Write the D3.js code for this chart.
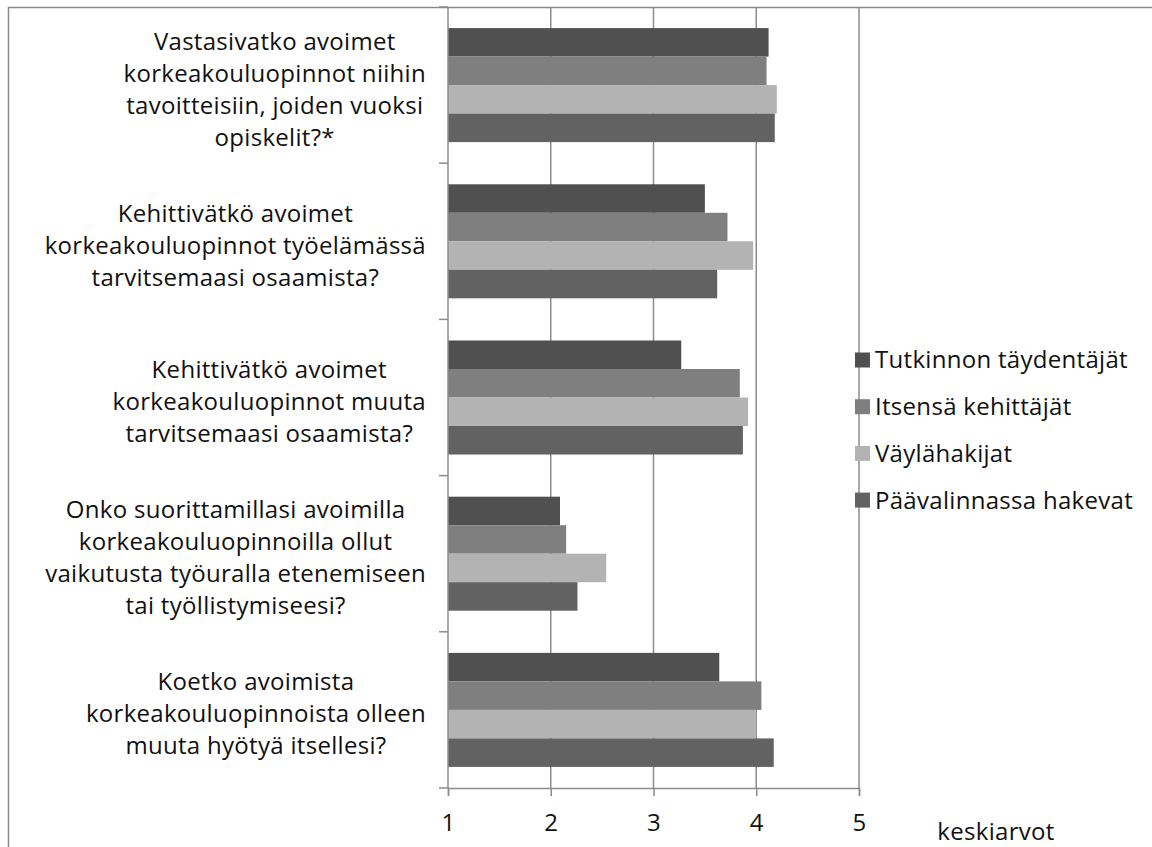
<!DOCTYPE html>
<html>
<head>
<meta charset="utf-8">
<script src="https://cdn.jsdelivr.net/npm/d3@7"></script>
<style>
  body { margin: 0; background: #fff; }
  text { font-family: "Open Sans", sans-serif; fill: #111; letter-spacing: 0.3px; }
</style>
</head>
<body>
<div id="figure"></div>
<script>
// questions (top to bottom)
var questions = [
  ["Vastasivatko avoimet", "korkeakouluopinnot niihin", "tavoitteisiin, joiden vuoksi", "opiskelit?*"],
  ["Kehittivätkö avoimet", "korkeakouluopinnot työelämässä", "tarvitsemaasi osaamista?"],
  ["Kehittivätkö avoimet", "korkeakouluopinnot muuta", "tarvitsemaasi osaamista?"],
  ["Onko suorittamillasi avoimilla", "korkeakouluopinnoilla ollut", "vaikutusta työuralla etenemiseen", "tai työllistymiseesi?"],
  ["Koetko avoimista", "korkeakouluopinnoista olleen", "muuta hyötyä itsellesi?"]
];
var seriesNames = ["Tutkinnon täydentäjät", "Itsensä kehittäjät", "Väylähakijat", "Päävalinnassa hakevat"];
var seriesColors = ["#505050", "#7f7f7f", "#b3b3b3", "#626262"];
// values per question, in series order
var tutkinnon = [4.12, 3.50, 3.27, 2.09, 3.64];
var itsensa   = [4.10, 3.72, 3.84, 2.15, 4.05];
var vayla     = [4.20, 3.97, 3.92, 2.54, 4.00];
var paavalinta = [4.18, 3.62, 3.87, 2.26, 4.17];
var xTicks = [1, 2, 3, 4, 5];
var xTitle = "keskiarvot";

var seriesValues = [tutkinnon, itsensa, vayla, paavalinta];

var W = 1152, H = 847;
var plot = {left: 448, right: 859, top: 7, bottom: 788};
var fs = 24;

var svg = d3.select("#figure").append("svg")
  .attr("width", W).attr("height", H);

// outer frame (cropped at right/bottom)
svg.append("rect")
  .attr("x", 8.5).attr("y", 7.5)
  .attr("width", W).attr("height", H)
  .attr("fill", "none").attr("stroke", "#8a8a8a").attr("stroke-width", 1.5);

var x = d3.scaleLinear().domain([1, 5]).range([plot.left, plot.right]);
var y0 = d3.scaleBand().domain(d3.range(questions.length)).range([plot.top, plot.bottom]);
var gap = y0.bandwidth() * 0.135;
var y1 = d3.scaleBand().domain(d3.range(seriesNames.length)).range([gap, y0.bandwidth() - gap]);

// gridlines
svg.append("g").selectAll("line").data(xTicks.slice(1)).join("line")
  .attr("x1", d => x(d)).attr("x2", d => x(d))
  .attr("y1", plot.top).attr("y2", plot.bottom)
  .attr("stroke", "#8c8c8c").attr("stroke-width", 1.5);

// bars
var groups = svg.append("g").selectAll("g").data(questions).join("g")
  .attr("transform", (d, i) => `translate(0,${y0(i)})`);
groups.selectAll("rect")
  .data((d, i) => seriesValues.map((vals, s) => ({s: s, v: vals[i]})))
  .join("rect")
  .attr("x", x(1))
  .attr("y", d => y1(d.s))
  .attr("width", d => x(d.v) - x(1))
  .attr("height", y1.bandwidth())
  .attr("fill", d => seriesColors[d.s]);

// x axis
var xAxis = svg.append("g").attr("transform", `translate(0,${plot.bottom})`)
  .call(d3.axisBottom(x).tickValues(xTicks).tickFormat(d3.format("d")).tickSize(8).tickPadding(18));
xAxis.select(".domain").attr("stroke", "#8c8c8c").attr("stroke-width", 1.5);
xAxis.selectAll(".tick line").attr("stroke", "#8c8c8c").attr("stroke-width", 1.5);
xAxis.selectAll(".tick text").attr("font-size", fs).attr("fill", "#111")
  .attr("font-family", "Open Sans, sans-serif");

// y axis line + ticks at category boundaries
var yTicks = d3.range(questions.length + 1).map(i => plot.top + i * y0.step());
svg.append("line")
  .attr("x1", plot.left).attr("x2", plot.left)
  .attr("y1", plot.top).attr("y2", plot.bottom)
  .attr("stroke", "#8c8c8c").attr("stroke-width", 1.5);
svg.append("g").selectAll("line").data(yTicks).join("line")
  .attr("x1", plot.left - 9).attr("x2", plot.left)
  .attr("y1", d => d).attr("y2", d => d)
  .attr("stroke", "#8c8c8c").attr("stroke-width", 1.5);

// category labels: lines centred, block pushed against the axis
var lineH = 32, labelRight = 426;
var labels = svg.append("g").selectAll("text").data(questions).join("text")
  .attr("text-anchor", "middle")
  .attr("font-size", fs)
  .attr("y", (d, i) => y0(i) + y0.bandwidth() / 2 + 4 - (d.length - 1) * lineH / 2);
labels.selectAll("tspan").data(d => d).join("tspan")
  .attr("dy", (d, j) => j === 0 ? "0.35em" : lineH)
  .text(d => d);
labels.each(function() {
  var maxW = 0;
  d3.select(this).selectAll("tspan").each(function() {
    maxW = Math.max(maxW, this.getComputedTextLength());
  });
  d3.select(this).selectAll("tspan").attr("x", labelRight - maxW / 2);
});

// legend
var legend = svg.append("g").selectAll("g").data(seriesNames).join("g")
  .attr("transform", (d, i) => `translate(855,${360 + i * 46.7})`);
legend.append("rect")
  .attr("x", 0).attr("y", -7.5).attr("width", 15).attr("height", 15)
  .attr("fill", (d, i) => seriesColors[i]);
legend.append("text")
  .attr("x", 20).attr("dy", "0.35em")
  .attr("font-size", fs)
  .text(d => d);

// axis title
svg.append("text")
  .attr("x", 996).attr("y", 832).attr("dy", "0.35em")
  .attr("text-anchor", "middle").attr("font-size", fs)
  .text(xTitle);
</script>
</body>
</html>
